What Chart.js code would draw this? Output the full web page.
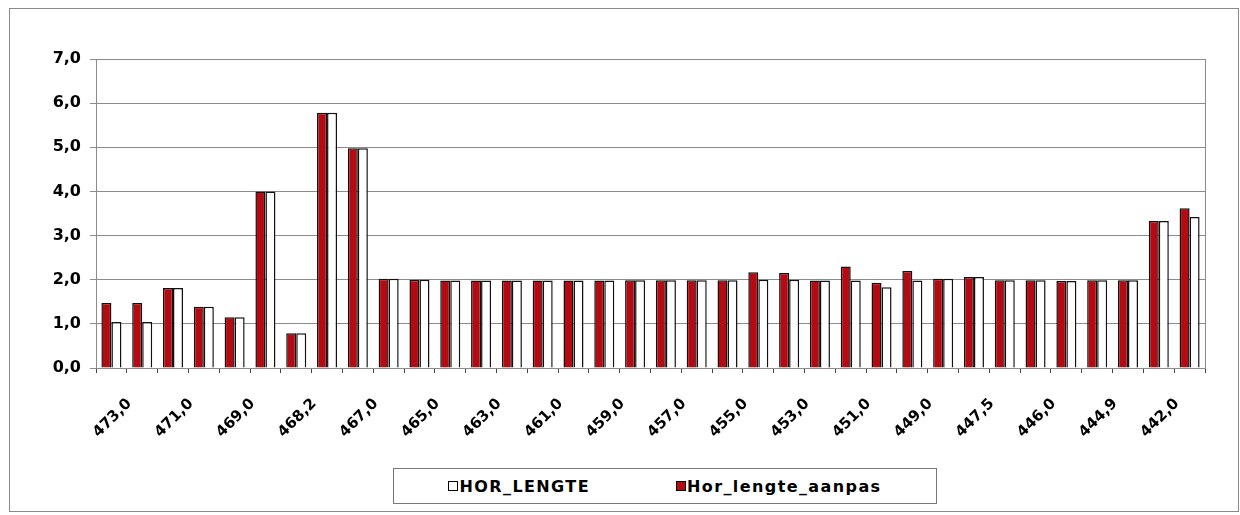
<!DOCTYPE html>
<html>
<head>
<meta charset="utf-8">
<script src="https://cdn.jsdelivr.net/npm/chart.js@4.4.1/dist/chart.umd.min.js"></script>
<style>
  html, body { margin: 0; padding: 0; background: #fff; }
  #wrap { position: relative; width: 1240px; height: 515px; overflow: hidden; }
  #frame { position: absolute; left: 9px; top: 8px; width: 1230px; height: 504px; border: 1px solid #8a8a8a; box-sizing: border-box; }
  #grafiek { position: absolute; left: 0; top: 0; }
  #legenda {
    position: absolute; left: 393px; top: 468px; width: 544px; height: 36px;
    border: 1px solid #777; box-sizing: border-box; background: #fff;
    display: flex; align-items: center; justify-content: center; gap: 86px;
    font-family: 'DejaVu Sans', sans-serif; font-weight: bold; font-size: 16px; letter-spacing: 1.4px; color: #000;
  }
  #legenda .item { display: flex; align-items: center; }
  #legenda .blok { width: 8px; height: 8px; border: 1.5px solid #000; margin-right: 1px; }
</style>
</head>
<body>
<div id="wrap">
  <div id="frame"></div>
  <canvas id="grafiek" width="1240" height="515"></canvas>
  <div id="legenda"></div>
</div>
<script>
// categorie-as: alleen elke tweede kilometrering staat erbij
var categorieen = ['473,0', '', '471,0', '', '469,0', '', '468,2', '', '467,0', '',
                   '465,0', '', '463,0', '', '461,0', '', '459,0', '', '457,0', '',
                   '455,0', '', '453,0', '', '451,0', '', '449,0', '', '447,5', '',
                   '446,0', '', '444,9', '', '442,0', ''];

var horLengteAanpas = [1.47, 1.47, 1.81, 1.39, 1.15, 4.0, 0.79, 5.78, 4.98, 2.02,
                       2.0, 1.98, 1.98, 1.98, 1.98, 1.98, 1.98, 1.99, 1.99, 1.99,
                       1.99, 2.17, 2.15, 1.98, 2.3, 1.93, 2.2, 2.02, 2.06, 1.99,
                       1.99, 1.97, 1.99, 1.99, 3.33, 3.62];

var horLengte = [1.04, 1.04, 1.81, 1.39, 1.15, 4.0, 0.79, 5.78, 4.98, 2.02,
                 2.0, 1.98, 1.98, 1.98, 1.98, 1.98, 1.98, 1.99, 1.99, 1.99,
                 1.99, 2.0, 2.0, 1.98, 1.98, 1.83, 1.98, 2.02, 2.06, 1.99,
                 1.99, 1.97, 1.99, 1.99, 3.33, 3.42];

var yMin = 0, yMax = 7, yStap = 1;

var lettertype = "'DejaVu Sans', sans-serif";

function kommaGetal(v) {
    return v.toFixed(1).replace('.', ',');
}

// kader om het plotgebied
var kaderPlugin = {
    id: 'kader',
    beforeDatasetsDraw: function (chart) {
        var a = chart.chartArea, ctx = chart.ctx;
        ctx.save();
        ctx.strokeStyle = '#8c8c8c';
        ctx.lineWidth = 1;
        ctx.strokeRect(Math.round(a.left) + 0.5, Math.round(a.top) + 0.5, Math.round(a.right - a.left), Math.round(a.bottom - a.top));
        ctx.restore();
    }
};

var ctx = document.getElementById('grafiek').getContext('2d');
var grafiek = new Chart(ctx, {
    type: 'bar',
    data: {
        labels: categorieen,
        datasets: [
            {
                label: 'Hor_lengte_aanpas',
                data: horLengteAanpas,
                backgroundColor: '#B50A12',
                borderColor: '#111',
                borderWidth: 1.5,
                categoryPercentage: 0.65,
                barPercentage: 1.0
            },
            {
                label: 'HOR_LENGTE',
                data: horLengte,
                backgroundColor: '#FFFFFF',
                borderColor: '#111',
                borderWidth: 1.5,
                categoryPercentage: 0.65,
                barPercentage: 1.0
            }
        ]
    },
    options: {
        responsive: false,
        animation: false,
        layout: { padding: { left: 0, right: 35, top: 59, bottom: 0 } },
        plugins: {
            legend: { display: false },
            tooltip: { enabled: false }
        },
        scales: {
            x: {
                offset: true,
                grid: { drawOnChartArea: false, drawTicks: true, tickLength: 5, color: '#444', offset: true },
                border: { color: '#444', width: 1 },
                ticks: {
                    autoSkip: false,
                    maxRotation: 45,
                    minRotation: 45,
                    padding: 22,
                    labelOffset: 18,
                    color: '#000',
                    font: { family: lettertype, size: 15, weight: 'bold' }
                },
                afterFit: function (s) { s.height = 147; }
            },
            y: {
                min: yMin,
                max: yMax,
                grid: { color: '#8c8c8c', tickLength: 6, drawTicks: true },
                border: { color: '#555', width: 1 },
                ticks: {
                    stepSize: yStap,
                    padding: 9,
                    color: '#000',
                    font: { family: lettertype, size: 16, weight: 'bold' },
                    callback: function (v) { return kommaGetal(v); }
                },
                afterFit: function (s) { s.width = 96; }
            }
        }
    },
    plugins: [kaderPlugin]
});

// legenda met kader, HOR_LENGTE eerst
var legenda = document.getElementById('legenda');
grafiek.data.datasets.slice().reverse().forEach(function (ds) {
    var item = document.createElement('div');
    item.className = 'item';
    var blok = document.createElement('span');
    blok.className = 'blok';
    blok.style.background = ds.backgroundColor;
    var tekst = document.createElement('span');
    tekst.textContent = ds.label;
    item.appendChild(blok);
    item.appendChild(tekst);
    legenda.appendChild(item);
});
</script>
</body>
</html>
